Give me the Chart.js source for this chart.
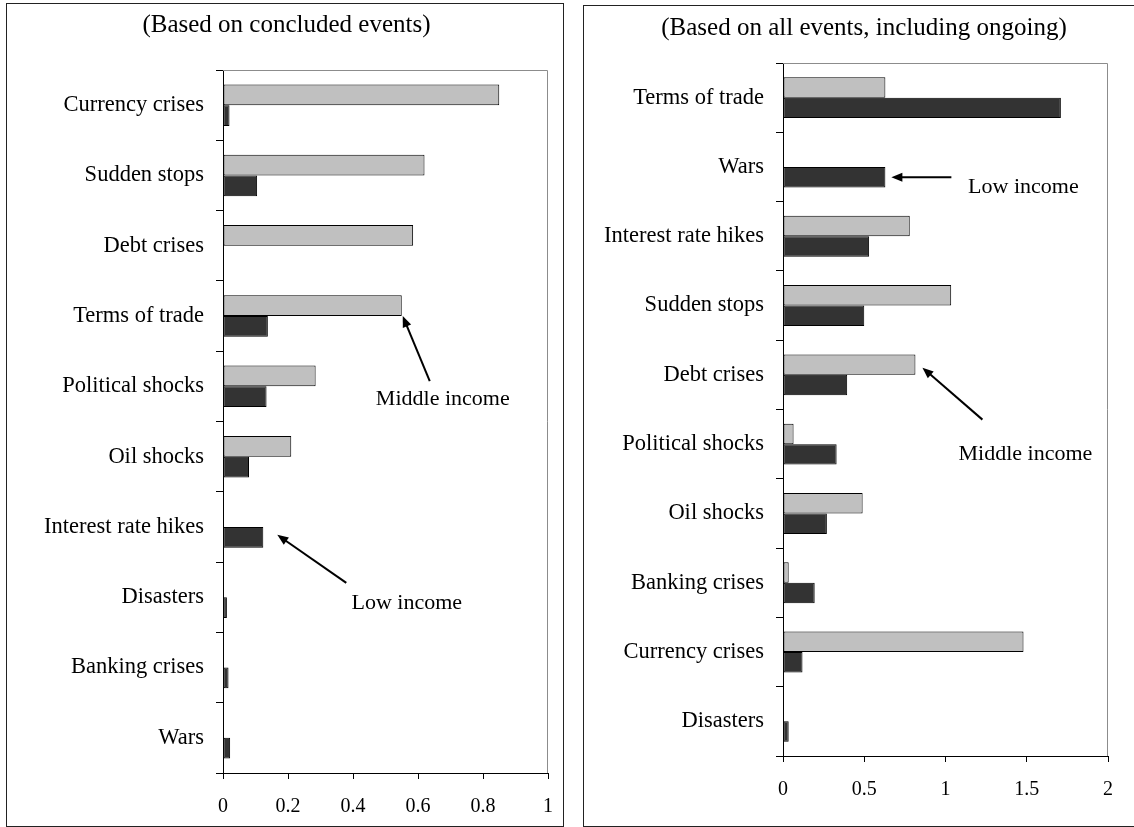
<!DOCTYPE html>
<html>
<head>
<meta charset="utf-8">
<script src="https://cdn.jsdelivr.net/npm/chart.js@4.4.1/dist/chart.umd.min.js"></script>
<style>
  html, body { margin: 0; padding: 0; background: #fff; width: 1134px; height: 827px; overflow: hidden; }
  .panel { position: absolute; box-sizing: border-box; border: 1px solid #222; background: #fff; }
  .panel canvas { display: block; }
</style>
</head>
<body>
<div class="panel" style="left:6px; top:3px; width:558px; height:824px;">
  <canvas id="leftChart" width="556" height="822"></canvas>
</div>
<div class="panel" style="left:583px; top:5px; width:562px; height:822px;">
  <canvas id="rightChart" width="560" height="820"></canvas>
</div>
<script>
// data: left panel (concluded events), top to bottom
const leftCategories = ['Currency crises', 'Sudden stops', 'Debt crises', 'Terms of trade', 'Political shocks',
  'Oil shocks', 'Interest rate hikes', 'Disasters', 'Banking crises', 'Wars'];
const leftMiddle = [0.85, 0.62, 0.585, 0.55, 0.285, 0.21, null, null, null, null];
const leftLow = [0.02, 0.105, null, 0.138, 0.134, 0.08, 0.124, 0.012, 0.017, 0.022];
const leftTicks = [0, 0.2, 0.4, 0.6, 0.8, 1];

// data: right panel (all events, including ongoing)
const rightCategories = ['Terms of trade', 'Wars', 'Interest rate hikes', 'Sudden stops', 'Debt crises',
  'Political shocks', 'Oil shocks', 'Banking crises', 'Currency crises', 'Disasters'];
const rightMiddle = [0.63, null, 0.78, 1.035, 0.815, 0.065, 0.49, 0.035, 1.48, null];
const rightLow = [1.71, 0.63, 0.53, 0.50, 0.395, 0.33, 0.27, 0.195, 0.12, 0.035];
const rightTicks = [0, 0.5, 1, 1.5, 2];

const SERIF = "'Liberation Serif', 'Times New Roman', serif";

function drawArrow(ctx, x1, y1, x2, y2) {
  const ang = Math.atan2(y2 - y1, x2 - x1);
  const len = 11, half = 4.5;
  ctx.beginPath();
  ctx.moveTo(x1, y1);
  ctx.lineTo(x2 - Math.cos(ang) * (len - 2), y2 - Math.sin(ang) * (len - 2));
  ctx.stroke();
  ctx.beginPath();
  ctx.moveTo(x2, y2);
  ctx.lineTo(x2 - Math.cos(ang) * len - Math.sin(ang) * half, y2 - Math.sin(ang) * len + Math.cos(ang) * half);
  ctx.lineTo(x2 - Math.cos(ang) * len + Math.sin(ang) * half, y2 - Math.sin(ang) * len - Math.cos(ang) * half);
  ctx.closePath();
  ctx.fill();
}

const panelDecor = {
  id: 'panelDecor',
  beforeDatasetsDraw(chart) {
    const { ctx, chartArea: a } = chart;
    ctx.save();
    ctx.strokeStyle = '#8c8c8c';
    ctx.lineWidth = 1;
    ctx.beginPath();
    ctx.moveTo(a.left, a.top + 0.5);
    ctx.lineTo(a.right - 0.5, a.top + 0.5);
    ctx.lineTo(a.right - 0.5, a.bottom);
    ctx.stroke();
    ctx.restore();
  },
  afterDraw(chart, args, opts) {
    const { ctx } = chart;
    ctx.save();
    ctx.fillStyle = '#000';
    ctx.strokeStyle = '#000';
    ctx.textBaseline = 'alphabetic';
    ctx.textAlign = 'center';
    ctx.font = '25px ' + SERIF;
    ctx.fillText(opts.title, opts.titleX, opts.titleY);

    ctx.font = '22px ' + SERIF;
    ctx.lineWidth = 2;
    opts.notes.forEach(n => {
      const el = chart.getDatasetMeta(n.dataset).data[n.index];
      const p = el.getProps(['x', 'y', 'height'], true);
      const ax = p.x;
      const ay = p.y + (n.edge === 'bottom' ? p.height / 2 : 0);
      drawArrow(ctx, ax + n.tail[0], ay + n.tail[1], ax + n.tip[0], ay + n.tip[1]);
      ctx.fillText(n.label, ax + n.text[0], ay + n.text[1]);
    });
    ctx.restore();
  }
};

function makeChart(id, categories, middle, low, xTicks, layout) {
  return new Chart(document.getElementById(id), {
    type: 'bar',
    data: {
      labels: categories,
      datasets: [
        { label: 'Middle income', data: middle, backgroundColor: '#c0c0c0' },
        { label: 'Low income', data: low, backgroundColor: '#333333' }
      ]
    },
    options: {
      indexAxis: 'y',
      responsive: false,
      animation: false,
      events: [],
      layout: { padding: layout.padding },
      datasets: {
        bar: {
          borderColor: '#000',
          borderWidth: 1,
          borderSkipped: false,
          categoryPercentage: 0.59,
          barPercentage: 1
        }
      },
      scales: {
        x: {
          type: 'linear',
          min: xTicks[0],
          max: xTicks[xTicks.length - 1],
          afterBuildTicks(scale) { scale.ticks = xTicks.map(v => ({ value: v })); },
          afterFit(scale) {
            scale.height = layout.xAxisHeight;
            scale.paddingLeft = 0;
            scale.paddingRight = 0;
          },
          ticks: { color: '#000', padding: 16, font: { family: SERIF, size: 20 }, callback: v => String(v) },
          grid: { display: true, drawOnChartArea: false, drawTicks: true, tickLength: 6, color: '#000', lineWidth: 1 },
          border: { display: true, color: '#000', width: 1 }
        },
        y: {
          afterFit(scale) { scale.width = layout.yAxisWidth; },
          ticks: { color: '#000', padding: 12, autoSkip: false, font: { family: SERIF, size: 22.5 } },
          grid: { display: true, offset: true, drawOnChartArea: false, drawTicks: true, tickLength: 7, color: '#000', lineWidth: 1 },
          border: { display: true, color: '#000', width: 1 }
        }
      },
      plugins: {
        legend: { display: false },
        tooltip: { enabled: false },
        panelDecor: layout.decor
      }
    },
    plugins: [panelDecor]
  });
}

const leftChart = makeChart('leftChart', leftCategories, leftMiddle, leftLow, leftTicks, {
  padding: { top: 66, right: 15, left: 0, bottom: 0 },
  xAxisHeight: 53,
  yAxisWidth: 216,
  decor: {
    title: '(Based on concluded events)', titleX: 279.5, titleY: 27.5,
    notes: [
      { dataset: 0, index: 3, edge: 'bottom', tip: [1, 0], tail: [28, 65], text: [41, 89], label: 'Middle income' },
      { dataset: 1, index: 6, edge: 'center', tip: [14, -2.5], tail: [83, 45.5], text: [143.5, 71.5], label: 'Low income' }
    ]
  }
});

const rightChart = makeChart('rightChart', rightCategories, rightMiddle, rightLow, rightTicks, {
  padding: { top: 57, right: 36, left: 0, bottom: 0 },
  xAxisHeight: 70,
  yAxisWidth: 199,
  decor: {
    title: '(Based on all events, including ongoing)', titleX: 280, titleY: 28.5,
    notes: [
      { dataset: 1, index: 1, edge: 'center', tip: [6, 0], tail: [66, 0], text: [138, 15.5], label: 'Low income' },
      { dataset: 0, index: 4, edge: 'center', tip: [7, 3], tail: [67, 55], text: [110, 95], label: 'Middle income' }
    ]
  }
});
</script>
</body>
</html>
